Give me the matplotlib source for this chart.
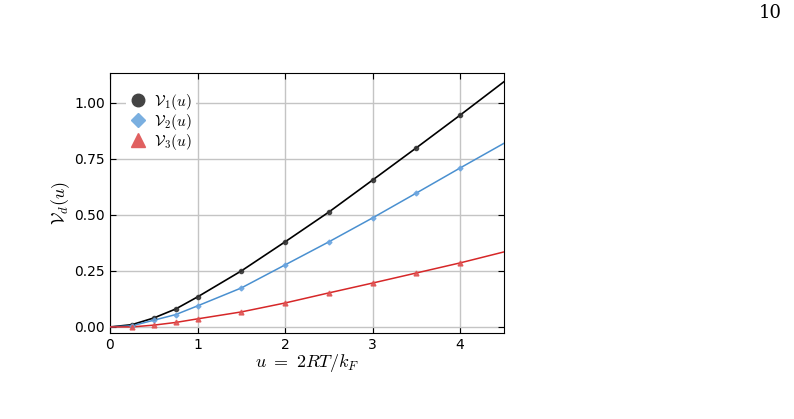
import matplotlib
matplotlib.use('Agg')
import matplotlib.pyplot as plt
from matplotlib.lines import Line2D

plt.rcParams['mathtext.fontset'] = 'cm'

# 读图估计的数据
u_pts = [0.25, 0.5, 0.75, 1.0, 1.5, 2.0, 2.5, 3.0, 3.5, 4.0]
v1_pts = [0.010, 0.040, 0.080, 0.134, 0.250, 0.380, 0.513, 0.656, 0.800, 0.946]
v2_pts = [0.005, 0.030, 0.055, 0.094, 0.174, 0.277, 0.380, 0.487, 0.598, 0.710]
v3_pts = [0.000, 0.008, 0.020, 0.036, 0.067, 0.107, 0.152, 0.196, 0.241, 0.286]

# 曲线端点
u_line = [0.0] + u_pts + [4.5]
v1_line = [0.0] + v1_pts + [1.095]
v2_line = [0.0] + v2_pts + [0.820]
v3_line = [0.0] + v3_pts + [0.335]

fig = plt.figure(figsize=(7.94, 4.19), dpi=100)
ax = fig.add_axes([0.1385, 0.2053, 0.4962, 0.6205])

ax.plot(u_line, v1_line, color='black', lw=1.2, zorder=3)
ax.plot(u_pts, v1_pts, 'o', color='#333333', ms=3, alpha=0.85, zorder=4)
ax.plot(u_line, v2_line, color='#4a90d0', lw=1.1, zorder=3)
ax.plot(u_pts, v2_pts, 'D', color='#6aa5e0', ms=2.5, alpha=0.85, zorder=4)
ax.plot(u_line, v3_line, color='#d62728', lw=1.1, zorder=3)
ax.plot(u_pts, v3_pts, '^', color='#e05050', ms=3.5, alpha=0.85, zorder=4)

ax.set_xlim(0, 4.5)
ax.set_ylim(-0.027, 1.134)
ax.set_xticks([0, 1, 2, 3, 4])
ax.set_yticks([0.0, 0.25, 0.5, 0.75, 1.0])
ax.set_yticklabels(['0.00', '0.25', '0.50', '0.75', '1.00'])
ax.tick_params(direction='in', top=True, right=True, labelsize=10, length=4)
ax.grid(True, color='#c4c4c4', lw=1.0)
ax.set_axisbelow(True)

ax.set_xlabel(r'$u\ =\ 2RT/k_F$', fontsize=13, labelpad=0)
ax.set_ylabel(r'$\mathcal{V}_d(u)$', fontsize=13, labelpad=2)

handles = [
    Line2D([], [], ls='', marker='o', color='#444444', ms=9),
    Line2D([], [], ls='', marker='D', color='#7aafe0', ms=7),
    Line2D([], [], ls='', marker='^', color='#e06060', ms=10),
]
labels = [r'$\mathcal{V}_1(u)$', r'$\mathcal{V}_2(u)$', r'$\mathcal{V}_3(u)$']
leg = ax.legend(handles, labels, loc='upper left', fontsize=11, frameon=True,
                framealpha=1, edgecolor='none', fancybox=False,
                handlelength=1.0, handletextpad=0.5, labelspacing=0.0,
                borderpad=0.3, bbox_to_anchor=(0.022, 0.975))

fig.text(0.985, 0.968, '10', fontsize=13, family='DejaVu Serif',
         ha='right', va='center')

plt.savefig('out.png', dpi=100)
plt.close()
